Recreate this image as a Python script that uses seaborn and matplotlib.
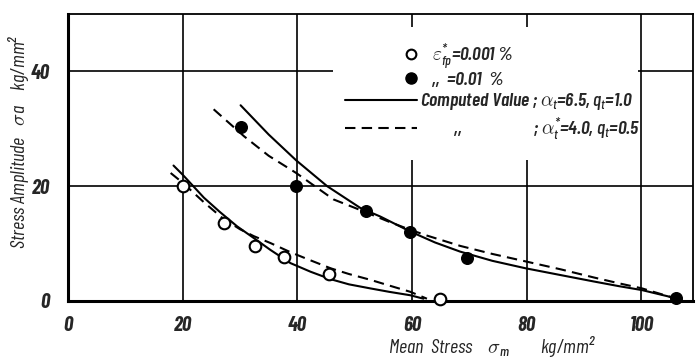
import matplotlib
matplotlib.use("Agg")
import matplotlib.pyplot as plt
from matplotlib import font_manager
from matplotlib.lines import Line2D
from matplotlib.patches import Rectangle
import seaborn as sns

# Measured fatigue-limit points (mean stress, stress amplitude), kg/mm^2
open_x = [20.0, 27.2, 32.6, 37.7, 45.5, 64.8]
open_y = [20.0, 13.6, 9.6, 7.6, 4.7, 0.3]
filled_x = [30.2, 39.8, 51.9, 59.7, 69.6, 106.1]
filled_y = [30.3, 20.0, 15.6, 12.1, 7.5, 0.5]

# Computed curves
low_solid_x = [18.4, 20, 23.7, 26.5, 29.5, 32.5, 35.3, 38.8, 42.3, 45.8, 49, 52.7, 56, 59.7, 62.0]
low_solid_y = [23.6, 22.0, 18.0, 15.5, 13.0, 10.9, 8.9, 6.6, 5.1, 3.8, 2.9, 2.2, 1.6, 1.0, 0.4]
low_dash_x = [17.9, 20, 23.7, 27, 30, 32.4, 35.3, 38.8, 42, 45.8, 49, 52.7, 56, 59.7, 62.6]
low_dash_y = [22.3, 20.6, 17.2, 14.4, 12.5, 11.3, 10.1, 8.5, 7.2, 5.7, 4.7, 3.7, 2.7, 1.6, 0.4]
up_solid_x = [30.1, 35, 39.8, 45.2, 51, 54.5, 59.7, 64, 68.4, 74, 79.8, 86, 91.7, 96, 100.1, 105.1]
up_solid_y = [34.1, 29.0, 24.5, 20.0, 16.2, 14.7, 12.1, 10.2, 8.6, 7.0, 5.7, 4.5, 3.4, 2.6, 1.9, 0.7]
up_dash_x = [25.4, 30.7, 35, 39.8, 46.3, 51.6, 56, 59.7, 62.6, 68.4, 74, 79.8, 86, 91.7, 96, 100.1, 105.1]
up_dash_y = [33.4, 28.7, 25.3, 22.3, 17.7, 15.6, 13.8, 12.4, 11.4, 9.6, 8.2, 6.9, 5.5, 4.1, 3.1, 2.2, 0.7]

x_ticks = [0, 20, 40, 60, 80, 100]
y_ticks = [0, 20, 40]

legend_marker_labels = [r"$\varepsilon_{fp}^{*}$=0.001 %", r",,  =0.01  %"]
legend_line_labels = [r"Computed Value ; $\alpha_t$=6.5, $q_t$=1.0",
                      r"         ,,                   ; $\alpha_t^{*}$=4.0, $q_t$=0.5"]

sns.set_style("white")

available = {f.name for f in font_manager.fontManager.ttflist}
family = "Barlow Condensed" if "Barlow Condensed" in available else "DejaVu Sans"
plt.rcParams["font.family"] = [family, "DejaVu Sans"]
plt.rcParams["mathtext.fontset"] = "custom"
plt.rcParams["mathtext.rm"] = f"{family}:italic:medium"
plt.rcParams["mathtext.it"] = f"{family}:italic:medium"
plt.rcParams["mathtext.bf"] = f"{family}:italic:bold"

fig = plt.figure(figsize=(6.99, 3.59), dpi=100)
ax = fig.add_axes([68 / 699, 58 / 359, 625 / 699, 287 / 359])

ax.set_xlim(0, 109)
ax.set_ylim(0, 50)
ax.set_xticks(x_ticks)
ax.set_yticks(y_ticks)
ax.grid(True, color="black", linewidth=1.2, zorder=0)
ax.set_axisbelow(True)

# blank panel behind the key
ax.add_patch(Rectangle((0.424, 0.491), 0.488, 0.464, transform=ax.transAxes,
                       facecolor="white", edgecolor="none", zorder=1))

line_kw = dict(color="black", linewidth=1.5, estimator=None, sort=False, ax=ax, zorder=3)
sns.lineplot(x=low_solid_x, y=low_solid_y, **line_kw)
sns.lineplot(x=up_solid_x, y=up_solid_y, **line_kw)
sns.lineplot(x=low_dash_x, y=low_dash_y, linestyle=(0, (5, 3)), **line_kw)
sns.lineplot(x=up_dash_x, y=up_dash_y, linestyle=(0, (5, 3)), **line_kw)

sns.scatterplot(x=open_x, y=open_y, marker="o", s=70, facecolor="white",
                edgecolor="black", linewidth=1.5, ax=ax, zorder=4, clip_on=False)
sns.scatterplot(x=filled_x, y=filled_y, marker="o", s=70, color="black",
                edgecolor="black", linewidth=1.0, ax=ax, zorder=4, clip_on=False)

for side in ["left", "bottom"]:
    ax.spines[side].set_linewidth(2.2)
for side in ["top", "right"]:
    ax.spines[side].set_linewidth(1.3)
for s in ax.spines.values():
    s.set_color("black")

tick_font = dict(fontsize=15, fontweight="bold", fontstyle="italic")
ax.tick_params(axis="x", length=0, pad=11)
ax.tick_params(axis="y", length=0, pad=13)
ax.set_xticklabels([str(t) for t in x_ticks], **tick_font)
ax.set_yticklabels([str(t) for t in y_ticks], **tick_font)

ax.set_xlabel(r"Mean  Stress    $\sigma_m$        kg/mm$^2$", fontsize=14.5, fontstyle="italic")
ax.xaxis.set_label_coords(0.678, -0.115)
ax.set_ylabel(r"Stress Amplitude   $\sigma$a    kg/mm$^2$", fontsize=14.5, fontstyle="italic")
ax.yaxis.set_label_coords(-0.058, 0.557)

marker_handles = [
    Line2D([], [], linestyle="none", marker="o", markersize=7, markerfacecolor="white",
           markeredgecolor="black", markeredgewidth=1.5),
    Line2D([], [], linestyle="none", marker="o", markersize=8, markerfacecolor="black",
           markeredgecolor="black"),
]
leg1 = ax.legend(marker_handles, legend_marker_labels, loc="upper left",
                 bbox_to_anchor=(0.533, 0.905), frameon=False, handlelength=1.0,
                 handletextpad=0.6, borderpad=0, borderaxespad=0, labelspacing=0.0,
                 prop=dict(family=[family, "DejaVu Sans"], size=14, style="italic", weight="semibold"))
ax.add_artist(leg1)

line_handles = [
    Line2D([], [], color="black", linewidth=1.5),
    Line2D([], [], color="black", linewidth=1.5, linestyle=(0, (5, 3))),
]
ax.legend(line_handles, legend_line_labels, loc="upper left",
          bbox_to_anchor=(0.443, 0.73), frameon=False, handlelength=3.7,
          handletextpad=0.15, borderpad=0, borderaxespad=0, labelspacing=0.15,
          prop=dict(family=[family, "DejaVu Sans"], size=14, style="italic", weight="semibold"))

fig.savefig("out.png", dpi=100)
